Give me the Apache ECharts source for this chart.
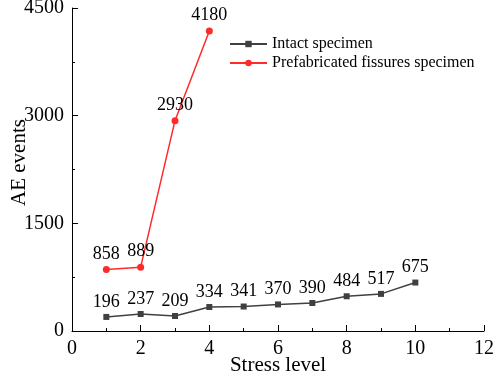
<!DOCTYPE html>
<html>
<head>
<meta charset="utf-8">
<script src="https://cdn.jsdelivr.net/npm/echarts@6/dist/echarts.min.js"></script>
<style>
	html, body { margin: 0; padding: 0; background: #fff; }
	#chart { width: 498px; height: 377px; }
</style>
</head>
<body>
<div id="chart"></div>
<script>
	// 数据
	var intactX = [1, 2, 3, 4, 5, 6, 7, 8, 9, 10];
	var intactY = [196, 237, 209, 334, 341, 370, 390, 484, 517, 675];
	var fissureX = [1, 2, 3, 4];
	var fissureY = [858, 889, 2930, 4180];
	var seriesNames = ['Intact specimen', 'Prefabricated fissures specimen'];

	function pairs(xs, ys) {
		var out = [];
		for (var i = 0; i < xs.length; i++) out.push([xs[i], ys[i]]);
		return out;
	}

	var font = 'Liberation Serif';
	var myChart = echarts.init(document.getElementById('chart'));
	var option = {
		animation: false,
		grid: { left: 72, right: 14, top: 8, bottom: 46, outerBoundsMode: 'none', containLabel: false },
		legend: {
			left: 224, top: 31, orient: 'vertical',
			itemWidth: 37, itemHeight: 8, itemGap: 3,
			textStyle: { fontFamily: font, fontSize: 16, color: '#000' },
			data: seriesNames
		},
		xAxis: {
			type: 'value', min: 0, max: 12, interval: 2,
			name: 'Stress level', nameLocation: 'middle', nameGap: 24, nameMoveOverlap: false,
			nameTextStyle: { fontFamily: font, fontSize: 21, color: '#000', verticalAlign: 'top' },
			axisLine: { lineStyle: { color: '#000', width: 1 } },
			axisTick: { inside: true, length: 6, lineStyle: { color: '#000' } },
			minorTick: { show: true, splitNumber: 2, length: 3, lineStyle: { color: '#000' } },
			axisLabel: { fontFamily: font, fontSize: 20, color: '#000', margin: 8,
				formatter: function(v) { return String(v); } },
			splitLine: { show: false }
		},
		yAxis: {
			type: 'value', min: 0, max: 4500, interval: 1500,
			name: 'AE events', nameLocation: 'middle', nameGap: 42, nameMoveOverlap: false,
			nameTextStyle: { fontFamily: font, fontSize: 21, color: '#000', verticalAlign: 'bottom',
				padding: [0, 0, 0, 14] },
			axisLine: { show: true, lineStyle: { color: '#000', width: 1 } },
			axisTick: { show: true, inside: true, length: 6, lineStyle: { color: '#000' } },
			minorTick: { show: true, splitNumber: 2, length: 3, lineStyle: { color: '#000' } },
			axisLabel: { fontFamily: font, fontSize: 20, color: '#000', margin: 8,
				formatter: function(v) { return String(v); } },
			splitLine: { show: false }
		},
		series: [
			{
				name: seriesNames[0], type: 'line',
				data: pairs(intactX, intactY),
				symbol: 'rect', symbolSize: 6,
				itemStyle: { color: '#404040' },
				lineStyle: { color: '#404040', width: 1.5 },
				label: { show: true, position: 'top', distance: 3, fontFamily: font, fontSize: 18, color: '#000' }
			},
			{
				name: seriesNames[1], type: 'line',
				data: pairs(fissureX, fissureY),
				symbol: 'circle', symbolSize: 7,
				itemStyle: { color: '#ff2a2a' },
				lineStyle: { color: '#ff2a2a', width: 1.5 },
				label: { show: true, position: 'top', distance: 3, fontFamily: font, fontSize: 18, color: '#000' }
			}
		]
	};
	myChart.setOption(option);
</script>
</body>
</html>
